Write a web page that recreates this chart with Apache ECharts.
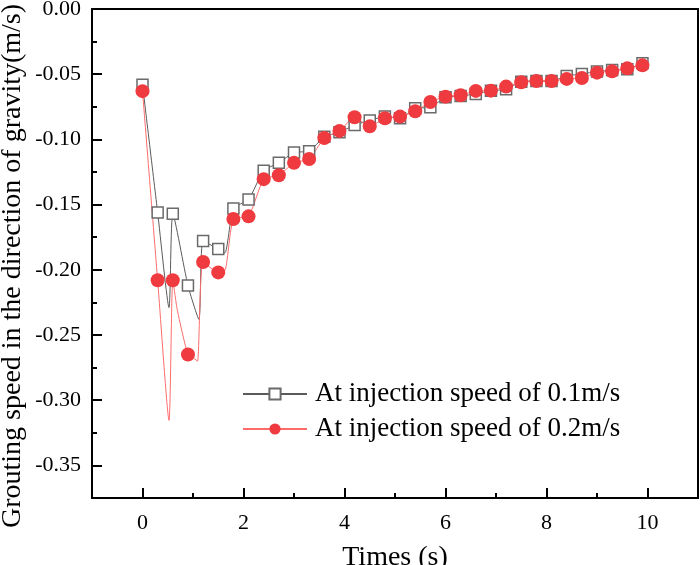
<!DOCTYPE html>
<html>
<head>
<meta charset="utf-8">
<script src="https://cdn.jsdelivr.net/npm/echarts@6/dist/echarts.min.js"></script>
<style>
  html, body { margin: 0; padding: 0; background: #fff; }
  #chart { width: 700px; height: 565px; }
</style>
</head>
<body>
<div id="chart"></div>
<script>
// sampling times where markers sit (s)
var times = [0, 0.3, 0.6, 0.9, 1.2, 1.5, 1.8, 2.1, 2.4, 2.7, 3.0, 3.3, 3.6, 3.9, 4.2, 4.5, 4.8,
  5.1, 5.4, 5.7, 6.0, 6.3, 6.6, 6.9, 7.2, 7.5, 7.8, 8.1, 8.4, 8.7, 9.0, 9.3, 9.6, 9.9]
// injection speed 0.1 m/s
var speed01 = [-0.058, -0.156, -0.157, -0.212, -0.178, -0.184, -0.153, -0.146, -0.124, -0.118,
  -0.110, -0.109, -0.098, -0.0945, -0.089, -0.0855, -0.0825, -0.0838, -0.0761, -0.0754,
  -0.0677, -0.0667, -0.0651, -0.0626, -0.0616, -0.0557, -0.0552, -0.0552, -0.0514, -0.0498,
  -0.0480, -0.0468, -0.0462, -0.0416]
// injection speed 0.2 m/s
var speed02 = [-0.063, -0.208, -0.208, -0.265, -0.194, -0.202, -0.161, -0.159, -0.1305, -0.1275,
  -0.118, -0.115, -0.099, -0.0935, -0.083, -0.090, -0.0838, -0.0825, -0.0784, -0.0713,
  -0.0672, -0.0661, -0.0628, -0.0626, -0.0595, -0.0562, -0.0552, -0.0552, -0.0536, -0.0529,
  -0.0488, -0.0478, -0.0455, -0.0432]
// line points between markers (curve dips)
var speed01Between = [[0.525, -0.229], [1.117, -0.238], [1.63, -0.187]]
var speed02Between = [[0.525, -0.3155], [0.69, -0.231], [1.02, -0.268], [1.09, -0.270], [1.64, -0.200]]

var xLabels = [0, 2, 4, 6, 8, 10]
var xMinor = [1, 3, 5, 7, 9]
var yLabels = [0, -0.05, -0.10, -0.15, -0.20, -0.25, -0.30, -0.35]
var yMinor = [-0.025, -0.075, -0.125, -0.175, -0.225, -0.275, -0.325]

var names = ['At injection speed of 0.1m/s', 'At injection speed of 0.2m/s']

function build (vals, between) {
  var pts = []
  for (var i = 0; i < times.length; i++) {
    pts.push({ value: [times[i], vals[i]] })
  }
  between.forEach(function (p) {
    pts.push({ value: p, symbol: 'none' })
  })
  pts.sort(function (a, b) { return a.value[0] - b.value[0] })
  return pts
}

var font = 'Liberation Serif'

function line () {
  return { color: '#000', width: 2 }
}

// an axis that only draws ticks at the given values
function tickAxis (base, pos, values, len) {
  return Object.assign({}, base, {
    position: pos,
    axisLine: { show: false, onZero: false },
    axisTick: { show: true, inside: true, length: len, customValues: values, lineStyle: line() },
    axisLabel: { show: false }
  })
}

// an axis that only draws the frame line
function frameAxis (base, pos) {
  return Object.assign({}, base, {
    position: pos,
    axisLine: { show: true, onZero: false, lineStyle: line() },
    axisTick: { show: false },
    axisLabel: { show: false }
  })
}

var xBase = { type: 'value', min: -1, max: 11, interval: 1, splitLine: { show: false } }
var yBase = { type: 'value', min: -0.375, max: 0, interval: 0.025, splitLine: { show: false } }

var chart = echarts.init(document.getElementById('chart'))
chart.setOption({
  animation: false,
  grid: {
    left: 92,
    right: 2,
    top: 9,
    bottom: 67,
    containLabel: false,
    outerBoundsMode: 'none'
  },
  legend: {
    orient: 'vertical',
    left: 242,
    top: 379,
    padding: 0,
    itemWidth: 64,
    itemHeight: 14,
    itemGap: 5,
    data: names,
    textStyle: { fontFamily: font, fontSize: 27, color: '#000', lineHeight: 30, padding: [0, 0, 0, 3] }
  },
  xAxis: [
    Object.assign({}, xBase, {
      position: 'bottom',
      name: 'Times (s)',
      nameLocation: 'middle',
      nameGap: 46,
      nameTextStyle: { fontFamily: font, fontSize: 28, color: '#000' },
      axisLine: { show: true, onZero: false, lineStyle: line() },
      axisTick: { show: false },
      axisLabel: { customValues: xLabels, fontFamily: font, fontSize: 22, color: '#000', margin: 14 }
    }),
    tickAxis(xBase, 'bottom', xLabels, 10),
    tickAxis(xBase, 'bottom', xMinor, 5),
    frameAxis(xBase, 'top')
  ],
  yAxis: [
    Object.assign({}, yBase, {
      position: 'left',
      axisLine: { show: true, onZero: false, lineStyle: line() },
      axisTick: { show: false },
      axisLabel: {
        customValues: yLabels,
        fontFamily: font,
        fontSize: 22,
        color: '#000',
        margin: 11,
        formatter: function (v) { return v.toFixed(2) }
      }
    }),
    tickAxis(yBase, 'left', yLabels, 10),
    tickAxis(yBase, 'left', yMinor, 5),
    frameAxis(yBase, 'right')
  ],
  graphic: [{
    type: 'text',
    x: 13,
    y: 266,
    rotation: Math.PI / 2,
    style: {
      text: 'Grouting speed in the direction of gravity(m/s)',
      font: '28px "Liberation Serif"',
      fill: '#000',
      align: 'center',
      verticalAlign: 'middle',
      textAlign: 'center',
      textVerticalAlign: 'middle'
    }
  }],
  series: [
    {
      name: names[0],
      type: 'line',
      smooth: 0.2,
      showAllSymbol: true,
      symbol: 'rect',
      symbolSize: 11,
      data: build(speed01, speed01Between),
      lineStyle: { color: '#5a5a5a', width: 1 },
      itemStyle: { color: '#fff', borderColor: '#6a6a6a', borderWidth: 1.5 }
    },
    {
      name: names[1],
      type: 'line',
      smooth: 0.2,
      showAllSymbol: true,
      symbol: 'circle',
      symbolSize: 14,
      data: build(speed02, speed02Between),
      lineStyle: { color: '#ff6b6b', width: 1 },
      itemStyle: { color: '#ef3b3f' }
    }
  ]
})
</script>
</body>
</html>
